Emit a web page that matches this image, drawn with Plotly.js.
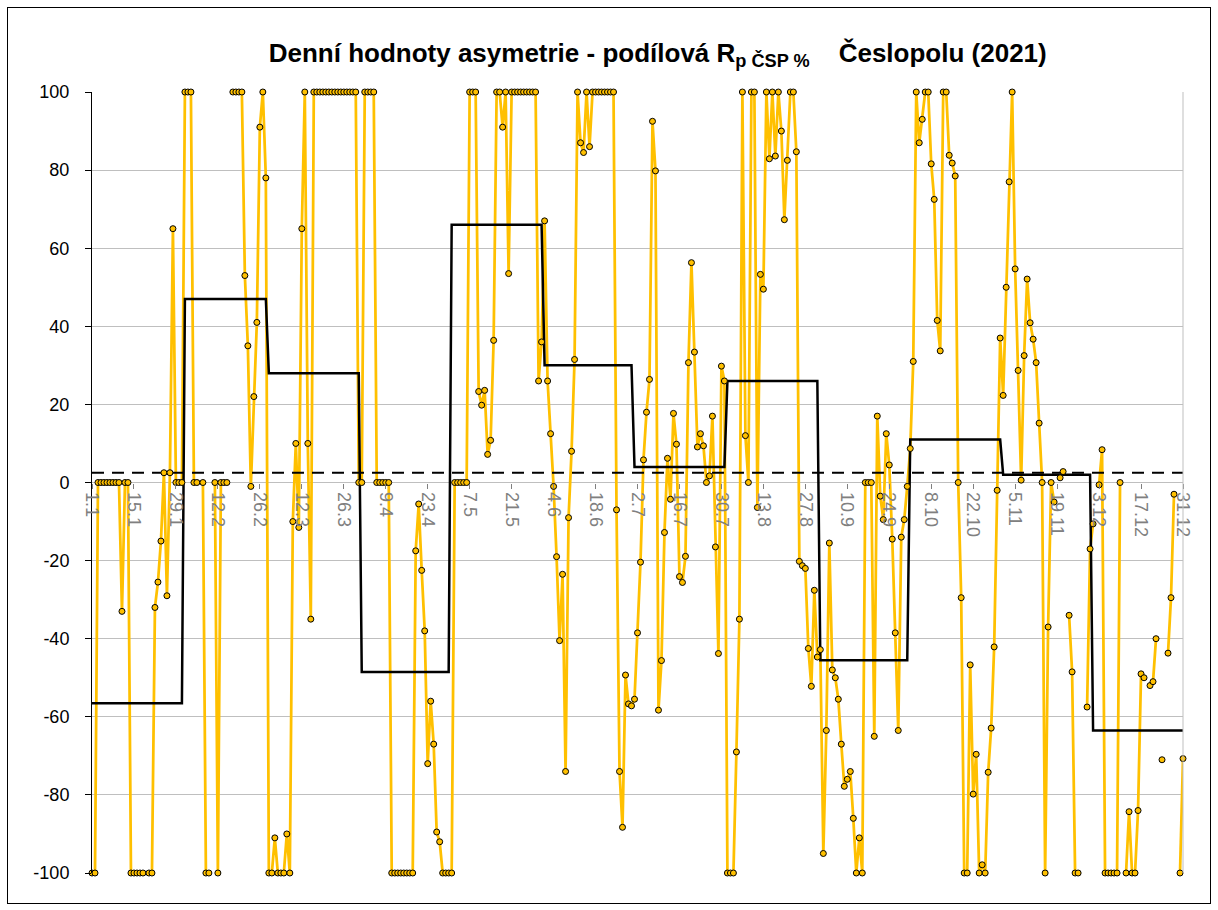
<!DOCTYPE html>
<html><head><meta charset="utf-8">
<script src="https://cdn.plot.ly/plotly-3.0.1.min.js"></script>
<style>
body{margin:0;background:#fff}
#frame{position:absolute;left:7px;top:7px;width:1204px;height:897px;border:1px solid #000;box-sizing:border-box;pointer-events:none}
</style>
</head><body>
<div id="chart" style="position:absolute;left:0;top:0;width:1218px;height:910px;"></div>
<div id="frame"></div>
<script>
// Daily values of the asymmetry ratio, by month (null = missing day)
const jan = [-100,-100,0,0,0,0,0,0,0,0,-33,0,0,-100,-100,-100,-100,-100,null,-100,-100,-32,-25.5,-15,2.5,-29,2.5,65,0,0,0];
const feb = [100,100,100,0,0,null,0,-100,-100,null,0,-100,0,0,0,null,100,100,100,100,53,35,-1,22,41,91,100,78];
const mar = [-100,-100,-91,-100,-100,-100,-90,-100,-10,10,-11.5,65,100,10,-35,100,100,100,100,100,100,100,100,100,100,100,100,100,100,100,0];
const apr = [0,100,100,100,100,0,0,0,0,0,-100,-100,-100,-100,-100,-100,-100,-100,-17.5,-5.5,-22.5,-38,-72,-56,-67,-89.5,-92,-100,-100,-100];
const may = [-100,0,0,0,0,0,100,100,100,23.3,19.8,23.6,7.2,10.8,36.4,100,100,91,100,53.5,100,100,100,100,100,100,100,100,100,26,36];
const jun = [67,26,12.5,-1,-19,-40.5,-23.5,-74,-9,8,31.5,100,87,84.5,100,86,100,100,100,100,100,100,100,100,-7,-74,-88.3,-49.3,-56.7,-57.2];
const jul = [-55.5,-38.5,-20.4,5.8,18,26.4,92.5,79.8,-58.3,-45.6,-12.8,6.2,-4.3,17.7,9.8,-24.1,-25.6,-18.9,30.7,56.3,33.4,9.1,12.5,9.4,0,1.7,17,-16.5,-43.8,29.8,26];
const aug = [-100,-100,-100,-69,-35,100,12,0,100,100,-6.4,53.3,49.5,100,82.9,100,83.6,100,90,67.3,82.5,100,100,84.7,-20.2,-21.3,-22,-42.5,-52.2,-27.6,-44.7];
const sep = [-42.8,-95,-63.5,-15.5,-48,-50,-55.5,-67,-77.8,-76,-74,-86,-100,-91,-100,0,0,0,-65,17,-3.5,-9.5,12.5,4.5,-14.5,-38.5,-63.5,-14,-9.5,-1];
const oct = [8.7,31,100,87,93,100,100,81.6,72.5,41.5,33.7,100,100,83.8,81.8,78.5,0,-29.5,-100,-100,-46.7,-79.8,-69.6,-100,-97.9,-100,-74.2,-62.9,-42.1,-2,37];
const nov = [22.3,50,77,100,54.7,28.7,0.6,32.5,52.1,40.9,36.7,30.7,15.2,0,-100,-37,0,-5,null,1.2,2.8,null,-34,-48.5,-100,-100,null,null,-57.5,-17];
const dec = [-10.6,null,-0.6,8.4,-100,-100,-100,-100,-100,0,null,-100,-84.3,-100,-100,-84,-49,-50,null,-52,-51,-40,null,-71,null,-43.7,-29.5,-3,null,-100,-70.7];

// Monthly values (black step line) and annual value (dashed line)
const monthLengths = [31,28,31,30,31,30,31,31,30,31,30,31];
const monthlyValues = [-56.5,47,28,-48.5,66,30,4,26,-45.5,11,2,-63.5];
const annualValue = 2.5;

// Axis labels
const xTickLabels = ['1.1','15.1','29.1','12.2','26.2','12.3','26.3','9.4','23.4','7.5','21.5','4.6','18.6','2.7','16.7','30.7','13.8','27.8','10.9','24.9','8.10','22.10','5.11','19.11','3.12','17.12','31.12'];
const yTickValues = [-100,-80,-60,-40,-20,0,20,40,60,80,100];
const yTickLabels = ['-100','-80','-60','-40','-20','0','20','40','60','80','100'];

const daily = [].concat(jan,feb,mar,apr,may,jun,jul,aug,sep,oct,nov,dec);
const days = daily.map((_, i) => i + 1);
const monthly = [];
monthLengths.forEach((n, m) => { for (let k = 0; k < n; k++) monthly.push(monthlyValues[m]); });
const annual = days.map(() => annualValue);
const xTickVals = xTickLabels.map((_, i) => 1 + 14 * i);

const FONT = 'Liberation Sans, Arial, sans-serif';
const YEL = '#FFC000';

const traces = [
  {x: days, y: daily, type: 'scatter', mode: 'lines', connectgaps: false,
   line: {color: YEL, width: 2.75}, hoverinfo: 'skip'},
  {x: days, y: monthly, type: 'scatter', mode: 'lines',
   line: {color: '#000', width: 2.5}, hoverinfo: 'skip'},
  {x: days, y: annual, type: 'scatter', mode: 'lines',
   line: {color: '#000', width: 2, dash: '12px,8px'}, hoverinfo: 'skip'},
  {x: days, y: daily, type: 'scatter', mode: 'markers', cliponaxis: false,
   marker: {size: 6, color: YEL, line: {color: '#000', width: 1}}}
];

const layout = {
  width: 1218, height: 910,
  margin: {l: 92, r: 35, t: 92, b: 37, pad: 0},
  paper_bgcolor: '#fff', plot_bgcolor: '#fff',
  showlegend: false,
  title: {
    text: '<b>Denní hodnoty asymetrie - podílová R<sub>p ČSP %</sub>\u00a0\u00a0\u00a0 Česlopolu (2021)</b>',
    font: {family: FONT, size: 26, color: '#000'},
    x: 0.54, xref: 'container', xanchor: 'center',
    y: 0.942, yref: 'container', yanchor: 'middle'
  },
  xaxis: {
    range: [1, 365], tickvals: xTickVals, ticktext: xTickLabels, tickangle: 90,
    tickfont: {family: FONT, size: 18, color: '#808080'},
    showgrid: false, zeroline: false, showline: false,
    ticks: 'outside', ticklen: 5, tickcolor: '#808080',
    anchor: 'free', position: 0.5
  },
  yaxis: {
    range: [-100, 100], tickvals: yTickValues, ticktext: yTickLabels,
    tickfont: {family: FONT, size: 18, color: '#000'},
    showgrid: true, gridcolor: '#BFBFBF', gridwidth: 1, zeroline: false,
    showline: true, linecolor: '#000', linewidth: 1,
    ticks: 'outside', ticklen: 6, tickcolor: '#000', ticklabelstandoff: 12
  },
  shapes: [
    {type: 'line', xref: 'paper', yref: 'paper', x0: 1, x1: 1, y0: 0, y1: 1,
     line: {color: '#BFBFBF', width: 1}}
  ]
};

Plotly.newPlot('chart', traces, layout, {displayModeBar: false, staticPlot: true});
</script>
</body></html>
